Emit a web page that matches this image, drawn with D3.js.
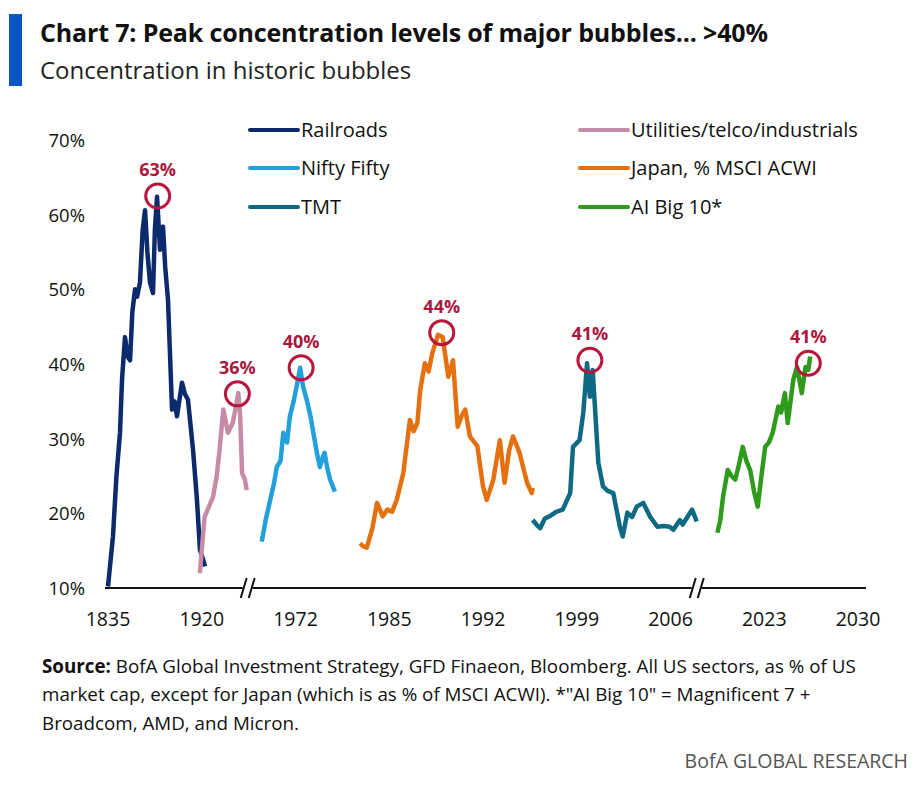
<!DOCTYPE html>
<html lang="en">
<head>
<meta charset="UTF-8" />
<script src="https://d3js.org/d3.v7.min.js"></script>
<style>
	body { margin:0; background:#fff; font-family:"Open Sans", "Noto Sans", sans-serif; }
</style>
</head>
<body>
<svg width="923" height="785"></svg>
<script>
	// x positions are in tick-slot units (0 = 1835 ... 8 = 2030), the axis is broken
	var tickLabels = ['1835','1920','1972','1985','1992','1999','2006','2023','2030']
	var yTicks = [10, 20, 30, 40, 50, 60, 70]

	var names = ['Railroads','Nifty Fifty','TMT','Utilities/telco/industrials','Japan, % MSCI ACWI','AI Big 10*']
	var colors = ['#0c2a6c','#22a0db','#0e6a82','#c78ca5','#e5700f','#2e9b1c']

	var railX = [0,.03,.053,.09,.128,.15,.181,.21,.235,.26,.288,.31,.341,.37,.395,.42,.448,.48,.5,.523,.555,.587,.61,.64,.683,.71,.736,.789,.82,.853,.907,.949,.981,1.01,1.035]
	var railY = [10.2,14,16.9,25,30.8,38,43.6,41,40.5,47,50,49,50.9,58,60.6,55,50.9,49.5,58,62.4,55.3,58.4,53,48.6,33.9,35,33,37.5,36,35.2,28.5,21.8,15.1,14,12.9]
	var utilX = [.98,1.0,1.03,1.08,1.12,1.16,1.19,1.23,1.26,1.28,1.33,1.36,1.39,1.41,1.43,1.46,1.48]
	var utilY = [12,15,19.5,21,22.2,25,28.5,33.9,32,30.8,32.1,34,36.1,33,25.4,24.5,23.1]
	var niftyX = [1.64,1.68,1.73,1.77,1.80,1.84,1.87,1.91,1.94,1.98,2.02,2.05,2.08,2.12,2.16,2.19,2.23,2.26,2.29,2.31,2.34,2.37,2.42]
	var niftyY = [16.2,19,21.8,24,26.2,27,30.8,29.5,33,35,37.5,39.5,37,35.2,33,30.8,28,26.2,27.5,28.1,26,24.5,22.9]
	var japanX = [2.69,2.72,2.76,2.82,2.87,2.93,2.98,3.03,3.08,3.15,3.22,3.26,3.30,3.33,3.38,3.42,3.46,3.52,3.57,3.63,3.68,3.73,3.77,3.81,3.86,3.94,4.0,4.04,4.11,4.18,4.23,4.28,4.32,4.39,4.47,4.52,4.53]
	var japanY = [16,15.6,15.4,18,21.4,19.6,20.5,20.2,21.8,25.4,32.5,31,32.1,36.5,40.1,39,41.5,43.9,43.6,38.3,40.5,31.6,33,33.9,30.3,29,23.6,21.8,24.5,29.8,24.1,28.5,30.3,28.1,24.1,22.7,23.4]
	var tmtX = [4.53,4.57,4.61,4.66,4.71,4.78,4.85,4.93,4.96,5.03,5.07,5.11,5.14,5.17,5.23,5.28,5.33,5.39,5.46,5.49,5.54,5.59,5.64,5.71,5.78,5.86,5.93,5.99,6.03,6.10,6.13,6.18,6.23,6.28]
	var tmtY = [19.1,18.5,18,19.3,19.6,20.2,20.5,22.7,28.9,29.8,33.5,40.1,35.6,39.2,26.8,23.6,23,22.7,18.2,16.9,20.1,19.5,20.9,21.4,19.6,18.2,18.3,18.2,17.8,19.1,18.5,19.5,20.5,18.9]
	var aiX = [6.50,6.53,6.56,6.61,6.65,6.69,6.73,6.77,6.81,6.85,6.89,6.93,6.97,7.01,7.05,7.09,7.15,7.18,7.22,7.25,7.31,7.35,7.40,7.44,7.47,7.49]
	var aiY = [17.4,19,22.2,25.8,25,24.5,26.5,28.9,27,25.8,23,20.9,25,28.9,29.5,30.8,34.3,33.5,36.1,32.1,37.9,39.6,36.1,39.6,39.2,41]

	var peakX = [.53, 1.38, 2.06, 3.56, 5.14, 7.47]
	var peakY = [62.5, 36, 39.5, 44.2, 40.5, 40.1]
	var peakLabels = ['63%','36%','40%','44%','41%','41%']

	var svg = d3.select('svg')
	var x = d3.scaleLinear().domain([0, 8]).range([108, 858])
	var y = d3.scaleLinear().domain([10, 70]).range([588, 140])

	// header
	svg.append('rect').attr('x', 9).attr('y', 14).attr('width', 13).attr('height', 72).attr('fill', '#0b55c4')
	svg.append('text').attr('x', 40).attr('y', 42).attr('font-size', 25).attr('font-weight', 'bold')
		.attr('textLength', 728).attr('fill', '#111')
		.text('Chart 7: Peak concentration levels of major bubbles... >40%')
	svg.append('text').attr('x', 40).attr('y', 79).attr('font-size', 24).attr('fill', '#222')
		.text('Concentration in historic bubbles')

	// y labels
	svg.selectAll('.yl').data(yTicks).enter().append('text')
		.attr('x', 85).attr('y', d => y(d) + 7).attr('text-anchor', 'end')
		.attr('font-size', 18.5).attr('fill', '#111').text(d => d + '%')

	// x axis with breaks
	svg.append('line').attr('x1', 105).attr('x2', 866).attr('y1', y(10)).attr('y2', y(10))
		.attr('stroke', '#111').attr('stroke-width', 2)
	var breaks = [1.49, 6.28]
	breaks.forEach(function(b) {
		var cx = x(b)
		svg.append('rect').attr('x', cx - 5).attr('y', y(10) - 4).attr('width', 10).attr('height', 8).attr('fill', '#fff')
		;[-4, 4].forEach(function(o) {
			svg.append('line').attr('x1', cx + o - 3).attr('x2', cx + o + 3)
				.attr('y1', y(10) + 10).attr('y2', y(10) - 10).attr('stroke', '#111').attr('stroke-width', 2)
		})
	})
	svg.selectAll('.xl').data(tickLabels).enter().append('text')
		.attr('x', (d, i) => x(i)).attr('y', 626).attr('text-anchor', 'middle')
		.attr('font-size', 19.5).attr('fill', '#111').text(d => d)

	// series
	var series = [[railX, railY, 0], [utilX, utilY, 3], [niftyX, niftyY, 1], [japanX, japanY, 4], [tmtX, tmtY, 2], [aiX, aiY, 5]]
	var line = d3.line().x(d => x(d[0])).y(d => y(d[1]))
	series.forEach(function(s) {
		var pts = s[0].map((v, i) => [v, s[1][i]])
		svg.append('path').attr('d', line(pts)).attr('fill', 'none')
			.attr('stroke', colors[s[2]]).attr('stroke-width', 4.5).attr('stroke-linejoin', 'round')
	})

	// peak circles
	peakX.forEach(function(px, i) {
		svg.append('circle').attr('cx', x(px)).attr('cy', y(peakY[i])).attr('r', 12)
			.attr('fill', 'none').attr('stroke', '#b8173d').attr('stroke-width', 3)
		svg.append('text').attr('x', x(px)).attr('y', y(peakY[i]) - 20).attr('text-anchor', 'middle')
			.attr('font-size', 18).attr('font-weight', 'bold').attr('fill', '#a8193d').text(peakLabels[i])
	})

	// legend
	var legX = [250, 250, 250, 580, 580, 580]
	var legY = [130, 168, 207, 130, 168, 207]
	names.forEach(function(n, i) {
		svg.append('line').attr('x1', legX[i]).attr('x2', legX[i] + 48).attr('y1', legY[i]).attr('y2', legY[i])
			.attr('stroke', colors[i]).attr('stroke-width', 4).attr('stroke-linecap', 'round')
		svg.append('text').attr('x', legX[i] + 51).attr('y', legY[i] + 7).attr('font-size', 20).attr('fill', '#111').text(n)
	})

	// source
	var src = svg.append('text').attr('font-size', 18.8).attr('fill', '#111')
	var l1 = src.append('tspan').attr('x', 42).attr('y', 673)
	l1.append('tspan').attr('font-weight', 'bold').text('Source:')
	l1.append('tspan').text(' BofA Global Investment Strategy, GFD Finaeon, Bloomberg. All US sectors, as % of US')
	src.append('tspan').attr('x', 42).attr('y', 701).text('market cap, except for Japan (which is as % of MSCI ACWI). *"AI Big 10" = Magnificent 7 +')
	src.append('tspan').attr('x', 42).attr('y', 730).text('Broadcom, AMD, and Micron.')
	svg.append('text').attr('x', 908).attr('y', 768).attr('text-anchor', 'end').attr('font-size', 19.5)
		.attr('fill', '#555').text('BofA GLOBAL RESEARCH')
</script>
</body>
</html>
